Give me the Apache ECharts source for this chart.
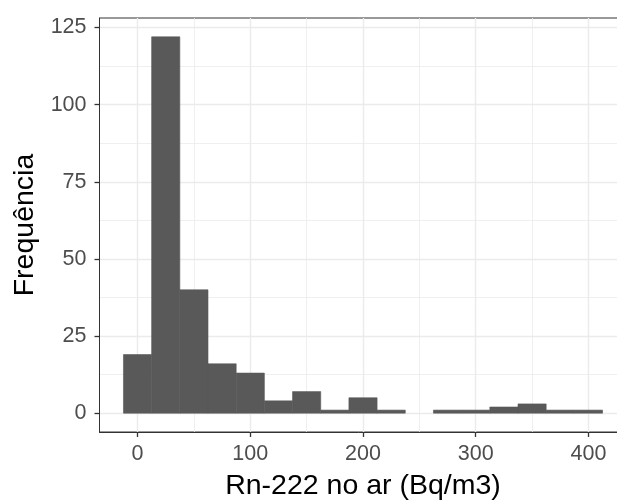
<!DOCTYPE html>
<html>
<head>
<meta charset="utf-8">
<script src="https://cdn.jsdelivr.net/npm/echarts@6/dist/echarts.min.js"></script>
<style>
  html, body { margin: 0; padding: 0; background: #ffffff; }
  #chart { width: 617px; height: 501px; }
</style>
</head>
<body>
<div id="chart"></div>
<script>
// Histogram of Rn-222 concentration in air, bins 25 Bq/m3 wide
const binWidth = 25;
const binCentres = [0, 25, 50, 75, 100, 125, 150, 175, 200, 225, 250, 275, 300, 325, 350, 375, 400];
const binCounts  = [19, 122, 40, 16, 13, 4, 7, 1, 5, 1, 0, 1, 1, 2, 3, 1, 1];

const xTicks = [0, 100, 200, 300, 400];
const xMinorTicks = [50, 150, 250, 350];
const yTicks = [0, 25, 50, 75, 100, 125];
const yMinorTicks = [12.5, 37.5, 62.5, 87.5, 112.5];

const xTitle = 'Rn-222 no ar (Bq/m3)';
const yTitle = 'Frequência';

// axis ranges with 5% padding on each side, like the default plotting expansion
const xLo = binCentres[0] - binWidth / 2;
const xHi = binCentres[binCentres.length - 1] + binWidth / 2;
const xPad = (xHi - xLo) * 0.05;
const yHi = Math.max(...binCounts);
const yPad = yHi * 0.05;

const FONT = 'Liberation Sans, Arial, sans-serif';
const gridColor = '#EBEBEB';
const barColor = '#595959';

const chart = echarts.init(document.getElementById('chart'), null, { renderer: 'canvas' });

const majorX = {
  type: 'value', min: xLo - xPad, max: xHi + xPad, position: 'bottom',
  axisLine: { show: true, onZero: false, lineStyle: { color: '#333333', width: 1 } },
  axisTick: { show: true, customValues: xTicks, length: 5, lineStyle: { color: '#333333', width: 1.3 } },
  axisLabel: { show: true, customValues: xTicks, margin: 11, color: '#4D4D4D', fontSize: 21.5, fontFamily: FONT },
  splitLine: { show: true, lineStyle: { color: gridColor, width: 1.4 } },
  name: xTitle, nameLocation: 'middle', nameGap: 40,
  nameTextStyle: { color: '#000000', fontSize: 28.5, fontFamily: FONT }
};
const minorX = {
  type: 'value', min: xLo - xPad, max: xHi + xPad, position: 'bottom',
  axisLine: { show: false }, axisTick: { show: false, customValues: xMinorTicks },
  axisLabel: { show: false, customValues: xMinorTicks },
  splitLine: { show: true, lineStyle: { color: gridColor, width: 0.8 } }
};
const majorY = {
  type: 'value', min: -yPad, max: yHi + yPad, position: 'left',
  axisLine: { show: true, onZero: false, lineStyle: { color: '#333333', width: 1 } },
  axisTick: { show: true, customValues: yTicks, length: 5, lineStyle: { color: '#333333', width: 1.3 } },
  axisLabel: { show: true, customValues: yTicks, margin: 13, color: '#4D4D4D', fontSize: 21.5, fontFamily: FONT },
  splitLine: { show: true, lineStyle: { color: gridColor, width: 1.4 } },
  name: yTitle, nameLocation: 'middle', nameGap: 60, nameRotate: 90,
  nameTextStyle: { color: '#000000', fontSize: 28.5, fontFamily: FONT }
};
const minorY = {
  type: 'value', min: -yPad, max: yHi + yPad, position: 'left',
  axisLine: { show: false }, axisTick: { show: false, customValues: yMinorTicks },
  axisLabel: { show: false, customValues: yMinorTicks },
  splitLine: { show: true, lineStyle: { color: gridColor, width: 0.8 } }
};

chart.setOption({
  animation: false,
  backgroundColor: '#ffffff',
  grid: {
    left: 99.5, top: 18, width: 527, height: 414,
    outerBoundsMode: 'none',
    show: true, borderColor: '#333333', borderWidth: 1, backgroundColor: 'transparent'
  },
  xAxis: [majorX, minorX],
  yAxis: [majorY, minorY],
  series: [{
    type: 'custom',
    xAxisIndex: 0, yAxisIndex: 0,
    data: binCentres.map((c, i) => [c, binCounts[i]]),
    renderItem: function (params, api) {
      const c = api.value(0);
      const n = api.value(1);
      if (!n) return null; // empty bins draw nothing
      const topLeft = api.coord([c - binWidth / 2, n]);
      const botRight = api.coord([c + binWidth / 2, 0]);
      return {
        type: 'rect',
        shape: { x: topLeft[0], y: topLeft[1], width: botRight[0] - topLeft[0], height: botRight[1] - topLeft[1] },
        style: { fill: barColor, stroke: barColor, lineWidth: 0.6 }
      };
    }
  }]
});
</script>
</body>
</html>
